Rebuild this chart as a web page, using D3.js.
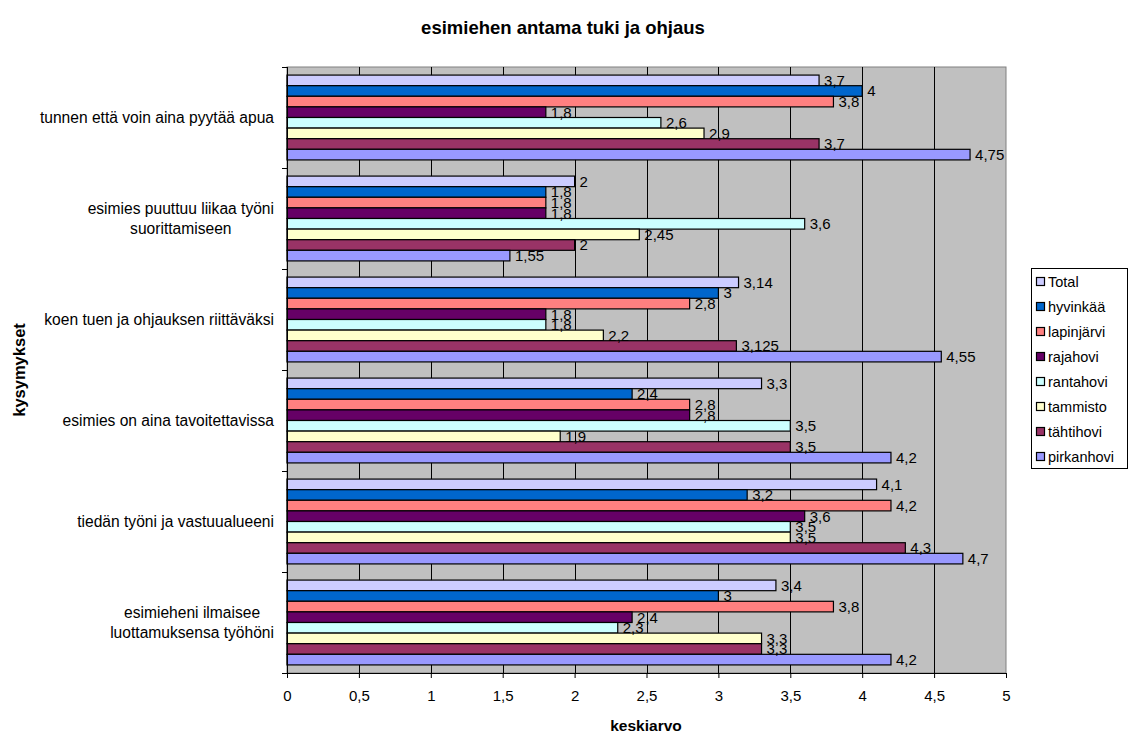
<!DOCTYPE html>
<html>
<head>
<meta charset="utf-8">
<script src="https://cdn.jsdelivr.net/npm/d3@7"></script>
<style>
  html, body { margin: 0; padding: 0; background: #fff; }
  svg { display: block; font-family: "Liberation Sans", Arial, sans-serif; }
</style>
</head>
<body>
<svg id="chart" width="1134" height="736"></svg>
<script>
const title = "esimiehen antama tuki ja ohjaus";
const xTitle = "keskiarvo";
const yTitle = "kysymykset";
const categories = [
  "tunnen että voin aina pyytää apua",
  "esimies puuttuu liikaa työni\nsuorittamiseen",
  "koen tuen ja ohjauksen riittäväksi",
  "esimies on aina tavoitettavissa",
  "tiedän työni ja vastuualueeni",
  "esimieheni ilmaisee\nluottamuksensa työhöni"
];
const seriesNames = ["Total", "hyvinkää", "lapinjärvi", "rajahovi", "rantahovi", "tammisto", "tähtihovi", "pirkanhovi"];
const seriesColors = ["#CCCCFF", "#0066CC", "#FF8080", "#660066", "#CCFFFF", "#FFFFCC", "#993366", "#9999FF"];
const Total      = [3.7, 2,    3.14,  3.3, 4.1, 3.4];
const hyvinkaa   = [4,   1.8,  3,     2.4, 3.2, 3];
const lapinjarvi = [3.8, 1.8,  2.8,   2.8, 4.2, 3.8];
const rajahovi   = [1.8, 1.8,  1.8,   2.8, 3.6, 2.4];
const rantahovi  = [2.6, 3.6,  1.8,   3.5, 3.5, 2.3];
const tammisto   = [2.9, 2.45, 2.2,   1.9, 3.5, 3.3];
const tahtihovi  = [3.7, 2,    3.125, 3.5, 4.3, 3.3];
const pirkanhovi = [4.75,1.55, 4.55,  4.2, 4.7, 4.2];
const seriesValues = [Total, hyvinkaa, lapinjarvi, rajahovi, rantahovi, tammisto, tahtihovi, pirkanhovi];
const xTicks = [0, 0.5, 1, 1.5, 2, 2.5, 3, 3.5, 4, 4.5, 5];

const fmt = v => String(v).replace(".", ",");

const svg = d3.select("#chart");
const plot = { left: 287, right: 1006, top: 67, bottom: 673 };

const x = d3.scaleLinear().domain([0, 5]).range([plot.left, plot.right]);
const y = d3.scaleBand().domain(d3.range(categories.length))
  .range([plot.top, plot.bottom]).paddingInner(0.16).paddingOuter(0.08);
const ys = d3.scaleBand().domain(d3.range(seriesNames.length))
  .range([0, y.bandwidth()]).padding(0);

// plot background
svg.append("rect").attr("x", plot.left).attr("y", plot.top)
  .attr("width", plot.right - plot.left).attr("height", plot.bottom - plot.top)
  .attr("fill", "#C0C0C0").attr("stroke", "#808080").attr("stroke-width", 1);

// gridlines
svg.append("g").selectAll("line").data(xTicks.filter(t => t > 0 && t < 5)).join("line")
  .attr("x1", d => Math.round(x(d)) + 0.5).attr("x2", d => Math.round(x(d)) + 0.5)
  .attr("y1", plot.top).attr("y2", plot.bottom)
  .attr("stroke", "#000").attr("stroke-width", 1);

// bars
const rows = [];
categories.forEach((c, ci) => seriesValues.forEach((vals, si) => rows.push({ ci, si, v: vals[ci] })));

svg.append("g").selectAll("rect").data(rows).join("rect")
  .attr("x", x(0))
  .attr("y", d => y(d.ci) + ys(d.si))
  .attr("width", d => x(d.v) - x(0))
  .attr("height", ys.bandwidth())
  .attr("fill", d => seriesColors[d.si])
  .attr("stroke", "#000").attr("stroke-width", 1.2);

// value labels
svg.append("g").selectAll("text").data(rows).join("text")
  .attr("x", d => x(d.v) + 5)
  .attr("y", d => y(d.ci) + ys(d.si) + ys.bandwidth() / 2)
  .attr("dy", "0.36em")
  .attr("font-size", 15)
  .attr("fill", "#000")
  .text(d => fmt(d.v));

// x axis
const xAxis = d3.axisBottom(x).tickValues(xTicks).tickSize(5).tickPadding(12).tickFormat(fmt);
const gx = svg.append("g").attr("transform", `translate(0,${plot.bottom})`).call(xAxis);
gx.select(".domain").attr("stroke", "#000");
gx.selectAll(".tick line").attr("stroke", "#000");
gx.selectAll("text").attr("font-size", 15).attr("font-family", "Liberation Sans, Arial, sans-serif").attr("fill", "#000");

// y axis (ticks at band boundaries)
const yBoundaries = d3.range(categories.length + 1).map(i => plot.top + i * y.step());
svg.append("line").attr("x1", plot.left + 0.5).attr("x2", plot.left + 0.5)
  .attr("y1", plot.top).attr("y2", plot.bottom).attr("stroke", "#000");
svg.append("g").selectAll("line").data(yBoundaries).join("line")
  .attr("x1", plot.left - 5).attr("x2", plot.left)
  .attr("y1", d => Math.round(d) + 0.5).attr("y2", d => Math.round(d) + 0.5)
  .attr("stroke", "#000");

// category labels
const catG = svg.append("g");
categories.forEach((c, i) => {
  const lines = c.split("\n");
  const cy = y(i) + y.bandwidth() / 2;
  const lh = 20;
  const t = catG.append("text").attr("font-size", 15.6).attr("fill", "#000").attr("text-anchor", "middle");
  lines.forEach((ln, li) => {
    t.append("tspan").attr("x", 0)
      .attr("y", cy + (li - (lines.length - 1) / 2) * lh)
      .attr("dy", "0.36em").text(ln);
  });
  const w = d3.max(t.selectAll("tspan").nodes(), n => n.getComputedTextLength());
  t.selectAll("tspan").attr("x", 274 - w / 2);
});

// titles
svg.append("text").attr("x", 563).attr("y", 34).attr("text-anchor", "middle")
  .attr("font-size", 18.5).attr("font-weight", "bold").text(title);
svg.append("text").attr("x", 646).attr("y", 731).attr("text-anchor", "middle")
  .attr("font-size", 15.5).attr("font-weight", "bold").text(xTitle);
svg.append("text").attr("transform", `translate(25,370) rotate(-90)`).attr("text-anchor", "middle")
  .attr("font-size", 16.5).attr("font-weight", "bold").text(yTitle);

// legend
const lg = svg.append("g");
lg.append("rect").attr("x", 1031.5).attr("y", 268.5).attr("width", 96).attr("height", 200)
  .attr("fill", "#fff").attr("stroke", "#000");
const li = lg.selectAll("g.item").data(seriesNames).join("g").attr("class", "item")
  .attr("transform", (d, i) => `translate(0,${281.5 + i * 25})`);
li.append("rect").attr("x", 1036.5).attr("y", -4).attr("width", 8).attr("height", 8)
  .attr("fill", (d, i) => seriesColors[i]).attr("stroke", "#000").attr("stroke-width", 1.2);
li.append("text").attr("x", 1048).attr("y", 0).attr("dy", "0.36em")
  .attr("font-size", 14.5).attr("fill", "#000").text(d => d);
</script>
</body>
</html>
